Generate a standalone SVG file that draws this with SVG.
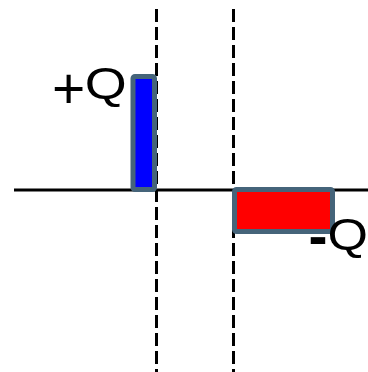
<svg xmlns="http://www.w3.org/2000/svg" width="368" height="372" viewBox="0 0 368 372">
<style>
.dash{stroke:#000;stroke-width:3;stroke-dasharray:13,5;fill:none}
.axis{stroke:#000;stroke-width:3;fill:none}
.plate{stroke:#45647a;stroke-width:5}
.lbl{font-family:"Liberation Sans",Arial,sans-serif;font-size:45px;fill:#000}
.sign{font-size:57px}
</style>
<g id="connectors">
<line class="axis" x1="14" y1="190" x2="368" y2="190"/>
<line class="dash" x1="156.5" y1="9" x2="156.5" y2="372"/>
<line class="dash" x1="233.5" y1="9" x2="233.5" y2="372"/>
</g>
<g id="plus-plate">
<rect class="plate" x="133" y="76.5" width="21.5" height="113" rx="2" fill="#0000ff"/>
</g>
<g id="minus-plate">
<rect class="plate" x="234.5" y="189.5" width="98" height="42" rx="2" fill="#ff0000"/>
</g>
<g id="plus-label"><text class="lbl"><tspan class="sign" x="52" y="107.5">+</tspan><tspan x="84.7" y="98.8" textLength="42" lengthAdjust="spacingAndGlyphs">Q</tspan></text></g>
<g id="minus-label"><text class="lbl"><tspan class="sign" x="308.5" y="256" style="font-weight:bold">-</tspan><tspan x="327.5" y="249.5" textLength="40.5" lengthAdjust="spacingAndGlyphs">Q</tspan></text></g>
</svg>
